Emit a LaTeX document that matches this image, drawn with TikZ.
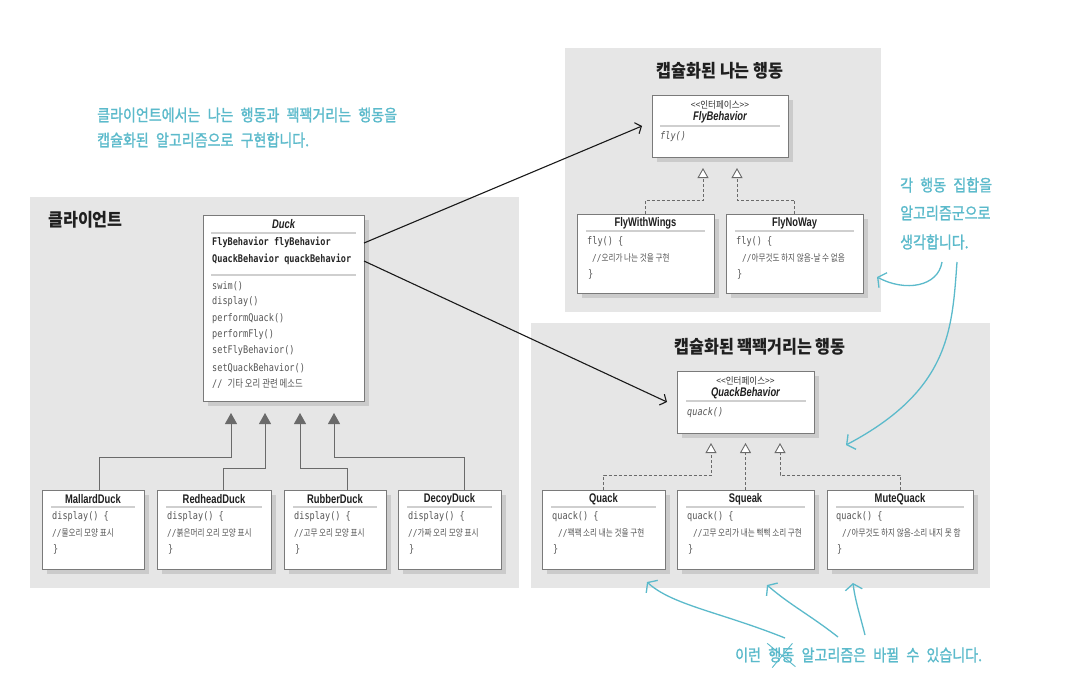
\documentclass[tikz,border=0pt]{standalone}
\usepackage{fontspec}
\setmainfont{Liberation Sans}
\newfontfamily\kr{Noto Sans CJK KR}[FakeStretch=0.9]
\newfontfamily\krn{Noto Sans CJK KR}[FakeStretch=0.8]
\newfontfamily\krs{Noto Sans CJK KR}[FakeStretch=0.9]
\newfontfamily\hand{Noto Sans CJK KR}[FakeStretch=0.85,WordSpace=2.3,FakeBold=1.2]
\newfontfamily\ttl{Liberation Sans}[FakeStretch=0.75]
\newfontfamily\code{DejaVu Sans Mono}[FakeStretch=0.815]
\usetikzlibrary{arrows.meta,shadows}
\definecolor{panel}{HTML}{E6E6E6}
\definecolor{shade}{HTML}{CBCBCB}
\definecolor{border}{HTML}{7A7A7A}
\definecolor{sepc}{HTML}{CFCFCF}
\definecolor{cyanh}{HTML}{5BBACB}
\definecolor{inhc}{HTML}{6A6A6A}
\definecolor{codec}{HTML}{555555}
\tikzset{
  umlbox/.style={draw=border, line width=1pt, fill=white, inner sep=0pt, outer sep=0pt, anchor=north west,
    drop shadow={shadow xshift=5pt, shadow yshift=-5pt, fill=shade, opacity=1}},
  sepl/.style={draw=sepc, line width=1.2pt},
  ctitle/.style={font={\ttl\bfseries\fontsize{12.5}{14}\selectfont}, text=black!88, inner sep=0pt},
  ctitleit/.style={font={\ttl\bfseries\itshape\fontsize{12.5}{14}\selectfont}, text=black!88, inner sep=0pt},
  codet/.style={font={\code\fontsize{10.5}{12}\selectfont}, text=codec, anchor=west, inner sep=0pt},
  codeb/.style={font={\code\bfseries\fontsize{10.5}{12}\selectfont}, text=black!85, anchor=west, inner sep=0pt},
  codei/.style={font={\code\itshape\fontsize{10.5}{12}\selectfont}, text=codec, anchor=west, inner sep=0pt},
  cmt/.style={font={\krn\fontsize{9.5}{11}\selectfont}, text=codec, anchor=west, inner sep=0pt},
  stereo/.style={font={\krs\fontsize{9.5}{11}\selectfont}, text=black!80, inner sep=0pt},
  head/.style={font={\kr\bfseries\fontsize{18}{20}\selectfont}, text=black!88, inner sep=0pt},
  hand/.style={font={\hand\fontsize{16.5}{18}\selectfont}, text=cyanh, anchor=west, inner sep=0pt},
  inh/.style={draw=inhc, line width=1pt, -{Triangle[width=12pt,length=11pt]}},
  real/.style={draw=inhc, line width=0.9pt, dash pattern=on 3pt off 2pt, -{Triangle[open,width=11pt,length=10pt,fill=white]}},
  assoc/.style={draw=black!90, line width=1.1pt, -{Straight Barb[length=5pt,width=12pt]}},
  note/.style={draw=cyanh, line width=1.3pt, -{Straight Barb[length=6pt,width=17pt]}}
}
\newcommand\umlrect[5]{\node[umlbox,minimum width={#4pt-#2pt},minimum height={#5pt-#3pt}] (#1) at (#2,#3) {};}
\begin{document}
\begin{tikzpicture}[x=1pt,y=-1pt]
\useasboundingbox (0,0) rectangle (1070,686);
\fill[white] (0,0) rectangle (1070,686);
% panels
\fill[panel] (30,197) rectangle (519,588);
\fill[panel] (565,48) rectangle (881,312);
\fill[panel] (531,323) rectangle (990,588);
\node[head, anchor=west] (clienth) at (48,220) {클라이언트};
\node[head] (flyh) at (720,71) {캡슐화된 나는 행동};
\node[head] (quackh) at (760,347) {캡슐화된 꽥꽥거리는 행동};

% Duck
\umlrect{duck}{203}{215}{364}{401}
\node[ctitleit] (duck-t) at (283.5,224) {Duck};
\draw[sepl] (211,233) -- (356,233);
\node[codeb] (duck-a1) at (212,242) {FlyBehavior flyBehavior};
\node[codeb] (duck-a2) at (212,259) {QuackBehavior quackBehavior};
\draw[sepl] (211,275) -- (356,275);
\node[codet] (duck-m1) at (212,286) {swim()};
\node[codet] (duck-m2) at (212,302) {display()};
\node[codet] (duck-m3) at (212,319) {performQuack()};
\node[codet] (duck-m4) at (212,335) {performFly()};
\node[codet] (duck-m5) at (212,351) {setFlyBehavior()};
\node[codet] (duck-m6) at (212,368) {setQuackBehavior()};
\node[codet] (duck-m7) at (212,384) {// {\krn 기타 오리 관련 메소드}};

% duck subclasses
\umlrect{mallard}{42}{490}{144}{569}
\node[ctitle] (mallard-t) at (93,499) {MallardDuck};
\draw[sepl] (51,507) -- (135,507);
\node[codet] (mallard-1) at (52,517) {display() \{};
\node[cmt] (mallard-2) at (52,533) {{\code//}물오리 모양 표시};
\node[codet] (mallard-3) at (53,549) {\}};

\umlrect{redhead}{157}{490}{271}{569}
\node[ctitle] (redhead-t) at (214,499) {RedheadDuck};
\draw[sepl] (166,507) -- (262,507);
\node[codet] (redhead-1) at (167,517) {display() \{};
\node[cmt] (redhead-2) at (167,533) {{\code//}붉은머리 오리 모양 표시};
\node[codet] (redhead-3) at (168,549) {\}};

\umlrect{rubber}{284}{490}{386}{569}
\node[ctitle] (rubber-t) at (335,499) {RubberDuck};
\draw[sepl] (293,507) -- (377,507);
\node[codet] (rubber-1) at (294,517) {display() \{};
\node[cmt] (rubber-2) at (294,533) {{\code//}고무 오리 모양 표시};
\node[codet] (rubber-3) at (295,549) {\}};

\umlrect{decoy}{398}{490}{501}{569}
\node[ctitle] (decoy-t) at (449.5,499) {DecoyDuck};
\draw[sepl] (407,507) -- (492,507);
\node[codet] (decoy-1) at (408,517) {display() \{};
\node[cmt] (decoy-2) at (408,533) {{\code//}가짜 오리 모양 표시};
\node[codet] (decoy-3) at (409,549) {\}};

% Fly behavior
\umlrect{flyb}{652}{95}{788}{157}
\node[stereo] (flyb-s) at (720,105) {<<인터페이스>>};
\node[ctitleit] (flyb-t) at (720,117) {FlyBehavior};
\draw[sepl] (660,126) -- (780,126);
\node[codei] (flyb-m) at (660,137) {fly()};

\umlrect{wings}{577}{214}{714}{293}
\node[ctitle] (wings-t) at (645.5,223) {FlyWithWings};
\draw[sepl] (586,231) -- (705,231);
\node[codet] (wings-1) at (587,242) {fly() \{};
\node[cmt] (wings-2) at (592,258) {{\code//}오리가 나는 것을 구현};
\node[codet] (wings-3) at (588,274) {\}};

\umlrect{noway}{726}{214}{863}{293}
\node[ctitle] (noway-t) at (794.5,223) {FlyNoWay};
\draw[sepl] (735,231) -- (854,231);
\node[codet] (noway-1) at (736,242) {fly() \{};
\node[cmt] (noway-2) at (742,258) {{\code//}아무것도 하지 않음-날 수 없음};
\node[codet] (noway-3) at (737,274) {\}};

% Quack behavior
\umlrect{quackb}{677}{371}{814}{433}
\node[stereo] (quackb-s) at (745.5,381) {<<인터페이스>>};
\node[ctitleit] (quackb-t) at (745.5,393) {QuackBehavior};
\draw[sepl] (686,401) -- (806,401);
\node[codei] (quackb-m) at (687,413) {quack()};

\umlrect{quack}{542}{490}{665}{569}
\node[ctitle] (quack-t) at (603.5,499) {Quack};
\draw[sepl] (551,507) -- (656,507);
\node[codet] (quack-1) at (552,517) {quack() \{};
\node[cmt] (quack-2) at (558,533) {{\code//}꽥꽥 소리 내는 것을 구현};
\node[codet] (quack-3) at (553,549) {\}};

\umlrect{squeak}{677}{490}{814}{569}
\node[ctitle] (squeak-t) at (745.5,499) {Squeak};
\draw[sepl] (686,507) -- (805,507);
\node[codet] (squeak-1) at (687,517) {quack() \{};
\node[cmt] (squeak-2) at (693,533) {{\code//}고무 오리가 내는 삑삑 소리 구현};
\node[codet] (squeak-3) at (688,549) {\}};

\umlrect{mute}{827}{490}{973}{569}
\node[ctitle] (mute-t) at (900,499) {MuteQuack};
\draw[sepl] (836,507) -- (964,507);
\node[codet] (mute-1) at (836,517) {quack() \{};
\node[cmt] (mute-2) at (842,533) {{\code//}아무것도 하지 않음-소리 내지 못 함};
\node[codet] (mute-3) at (837,549) {\}};

% inheritance
\coordinate (d1) at (231,413);
\coordinate (d2) at (265,413);
\coordinate (d3) at (300,413);
\coordinate (d4) at (334,413);
\draw[inh] ([xshift=6pt]mallard.north) -- ++(0,-33) -| (d1);
\draw[inh] ([xshift=9pt]redhead.north) -- ++(0,-22) -| (d2);
\draw[inh] ([xshift=12pt]rubber.north) -- ++(0,-22) -| (d3);
\draw[inh] ([xshift=14.5pt]decoy.north) -- ++(0,-33) -| (d4);

% realization
\coordinate (f1) at (703,168);
\coordinate (f2) at (737,168);
\draw[real] (wings.north) -- ++(0,-14) -| (f1);
\draw[real] (noway.north) -- ++(0,-14) -| (f2);
\coordinate (q1) at (711,443);
\coordinate (q2) at (745.5,443);
\coordinate (q3) at (780,443);
\draw[real] (quack.north) -- ++(0,-15) -| (q1);
\draw[real] (squeak.north) -- (q2);
\draw[real] (mute.north) -- ++(0,-15) -| (q3);

% association
\draw[assoc] ([yshift=65pt]duck.east) -- ([xshift=-10pt]flyb.west);
\draw[assoc] ([yshift=47pt]duck.east) -- ([xshift=-10pt]quackb.west);

% annotations
\node[hand] (n1a) at (97,115) {클라이언트에서는 나는 행동과 꽥꽥거리는 행동을};
\node[hand] (n1b) at (97,140) {캡슐화된 알고리즘으로 구현합니다.};
\node[hand] (n2a) at (900,185) {각 행동 집합을};
\node[hand] (n2b) at (900,213) {알고리즘군으로};
\node[hand] (n2c) at (900,242) {생각합니다.};
\node[hand] (b1) at (735,655) {이런};
\node[hand] (b2) at ([xshift=7pt]b1.east) {행동};
\node[hand] (b3) at ([xshift=7pt]b2.east) {알고리즘은 바뀔 수 있습니다.};
\draw[cyanh, line width=0.9pt] ([xshift=-1pt,yshift=4pt]b2.north west) -- ([xshift=1pt,yshift=-4pt]b2.south east);
\draw[cyanh, line width=0.9pt] ([xshift=-2pt,yshift=4pt]b2.north east) -- ([xshift=4pt,yshift=-5pt]b2.south west);

\coordinate (c1s) at (942,262);
\coordinate (c1e) at (877,277);
\draw[note] (c1s) .. controls (938,287) and (905,292) .. (c1e);
\coordinate (c2s) at (957,262);
\coordinate (c2e) at (846,445);
\draw[note] (c2s) .. controls (952,330) and (950,390) .. (c2e);
\coordinate (a1s) at (785,638);
\coordinate (a1e) at (647,582);
\draw[note] (a1s) .. controls (720,612) and (672,605) .. (a1e);
\coordinate (a2s) at (838,637);
\coordinate (a2e) at (767,585);
\draw[note] (a2s) .. controls (810,615) and (790,605) .. (a2e);
\coordinate (a3s) at (865,635);
\coordinate (a3e) at (853,583);
\draw[note] (a3s) .. controls (860,615) and (855,600) .. (a3e);
\end{tikzpicture}
\end{document}
